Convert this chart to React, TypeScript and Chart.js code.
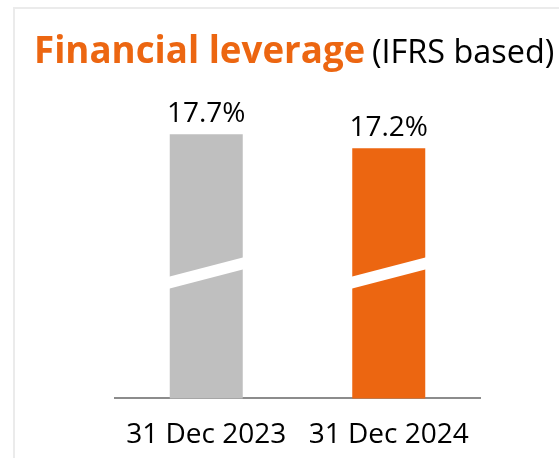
import React, { useEffect, useRef } from "react";
import { Chart, registerables } from "chart.js";

Chart.register(...registerables);

const categories = ["31 Dec 2023", "31 Dec 2024"];
const leverageValues = [17.7, 17.2];
const valueLabels = ["17.7%", "17.2%"];
const barColors = ["#BFBFBF", "#EC6611"];

const titleText = "Financial leverage";
const subtitleText = "(IFRS based)";

const FONT = "'Open Sans', 'Noto Sans', sans-serif";

const overlayPlugin = {
  id: "overlay",
  afterDatasetsDraw(chart: any) {
    const { ctx, chartArea } = chart;
    const meta = chart.getDatasetMeta(0);
    ctx.save();
    // break bands
    const midY = chartArea.top + (chartArea.bottom - chartArea.top) * 0.606;
    const thick = 12;
    meta.data.forEach((bar: any) => {
      const half = bar.width / 2;
      const l = bar.x - half - 1;
      const r = bar.x + half + 1;
      const slope = 0.26;
      const yl = midY + slope * (bar.x - l);
      const yr = midY - slope * (r - bar.x);
      ctx.fillStyle = "#ffffff";
      ctx.beginPath();
      ctx.moveTo(l, yl - thick / 2);
      ctx.lineTo(r, yr - thick / 2);
      ctx.lineTo(r, yr + thick / 2);
      ctx.lineTo(l, yl + thick / 2);
      ctx.closePath();
      ctx.fill();
    });
    // value labels
    ctx.fillStyle = "#000000";
    ctx.font = `28px ${FONT}`;
    ctx.textAlign = "center";
    ctx.textBaseline = "alphabetic";
    meta.data.forEach((bar: any, i: number) => {
      ctx.fillText(valueLabels[i], bar.x, bar.y - 12.5);
    });
    // title
    ctx.textAlign = "left";
    ctx.font = `bold 36.7px ${FONT}`;
    ctx.fillStyle = "#EC6611";
    ctx.fillText(titleText, 34, 63);
    ctx.font = `32.4px ${FONT}`;
    ctx.fillStyle = "#000000";
    ctx.fillText(subtitleText, 372, 63);
    ctx.restore();
  },
};

export default function App() {
  const canvasRef = useRef<HTMLCanvasElement | null>(null);

  useEffect(() => {
    document.body.style.margin = "0";
    const canvas = canvasRef.current;
    if (!canvas) return;
    const chart = new Chart(canvas, {
      type: "bar",
      data: {
        labels: categories,
        datasets: [
          {
            data: leverageValues,
            backgroundColor: barColors,
            borderWidth: 0,
            barPercentage: 0.4,
            categoryPercentage: 1,
          },
        ],
      },
      options: {
        animation: false,
        responsive: false,
        devicePixelRatio: 1,
        layout: { padding: { left: 115, right: 79, top: 80, bottom: -6 } },
        plugins: {
          legend: { display: false },
          title: { display: false },
          tooltip: { enabled: false },
        },
        scales: {
          x: {
            grid: { display: false },
            border: { display: true, color: "#8C8C8C", width: 2 },
            ticks: {
              color: "#000000",
              font: { family: FONT, size: 28 },
              padding: 12,
            },
          },
          y: {
            display: false,
            min: 8.3,
            max: 19.63,
          },
        },
      },
      plugins: [overlayPlugin],
    });
    return () => chart.destroy();
  }, []);

  return (
    <div style={{ position: "relative", width: 559, height: 458, background: "#fff", overflow: "hidden" }}>
      <div
        style={{
          position: "absolute",
          left: 13,
          top: 7,
          right: 0,
          bottom: 0,
          borderTop: "2px solid #EBEBEB",
          borderLeft: "2px solid #EBEBEB",
        }}
      />
      <canvas ref={canvasRef} width={559} height={458} style={{ position: "absolute", left: 0, top: 0 }} />
    </div>
  );
}
